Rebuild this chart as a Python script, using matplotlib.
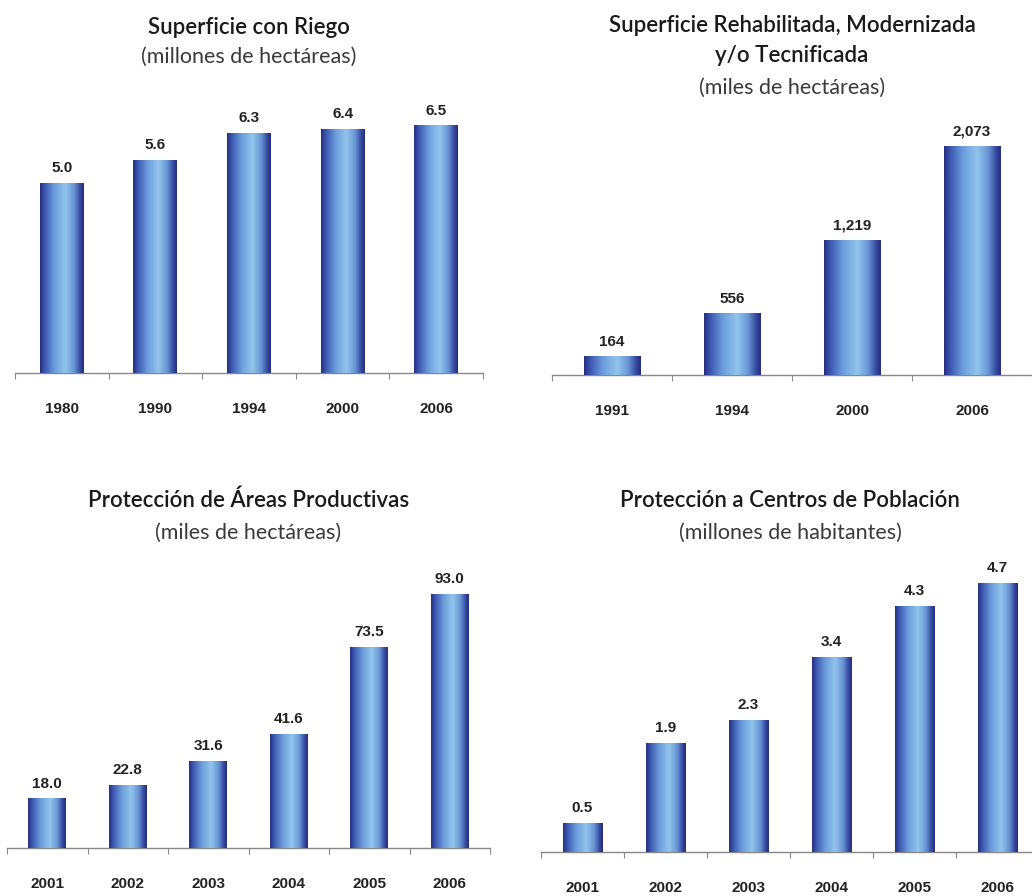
import matplotlib
matplotlib.use("Agg")
import matplotlib.pyplot as plt
import numpy as np
from matplotlib.colors import LinearSegmentedColormap

# Superficie con Riego (millones de hectáreas)
riego_years = ["1980", "1990", "1994", "2000", "2006"]
riego_values = [5.0, 5.6, 6.3, 6.4, 6.5]
riego_labels = ["5.0", "5.6", "6.3", "6.4", "6.5"]

# Superficie Rehabilitada, Modernizada y/o Tecnificada (miles de hectáreas)
rehab_years = ["1991", "1994", "2000", "2006"]
rehab_values = [164, 556, 1219, 2073]
rehab_labels = ["164", "556", "1,219", "2,073"]

# Protección de Áreas Productivas (miles de hectáreas)
areas_years = ["2001", "2002", "2003", "2004", "2005", "2006"]
areas_values = [18.0, 22.8, 31.6, 41.6, 73.5, 93.0]
areas_labels = ["18.0", "22.8", "31.6", "41.6", "73.5", "93.0"]

# Protección a Centros de Población (millones de habitantes)
pobl_years = ["2001", "2002", "2003", "2004", "2005", "2006"]
pobl_values = [0.5, 1.9, 2.3, 3.4, 4.3, 4.7]
pobl_labels = ["0.5", "1.9", "2.3", "3.4", "4.3", "4.7"]

W, H = 1032, 896
NUM_FONT = ["Liberation Sans Narrow", "Liberation Sans", "DejaVu Sans"]
TITLE_FONT = ["Lato", "DejaVu Sans"]

bar_cmap = LinearSegmentedColormap.from_list(
    "cyl",
    [(0.0, "#262e7c"), (0.1, "#3a54ae"), (0.33, "#6c9cdb"),
     (0.58, "#92c5eb"), (0.78, "#6894d4"), (0.92, "#34489e"), (1.0, "#252c78")],
)
gradient = np.linspace(0, 1, 256).reshape(1, -1)


def px_axes(fig, x0, x1, y_base, height):
    return fig.add_axes([x0 / W, (H - y_base) / H, (x1 - x0) / W, height / H])


def draw_panel(fig, ax, years, values, labels, ymax, titles):
    n = len(years)
    x = np.arange(n)
    bars = ax.bar(x, values, width=0.47, color="#4a6cc4", zorder=2)
    for b in bars:
        x0, w, h = b.get_x(), b.get_width(), b.get_height()
        ax.imshow(gradient, extent=[x0, x0 + w, 0, h], aspect="auto",
                  cmap=bar_cmap, zorder=3, interpolation="bicubic")
    for b, lab in zip(bars, labels):
        ax.annotate(lab, (b.get_x() + b.get_width() / 2, b.get_height()),
                    xytext=(0, 6), textcoords="offset points",
                    ha="center", va="bottom", fontsize=11,
                    fontweight="bold", family=NUM_FONT, color="#222222")
    ax.set_xlim(-0.5, n - 0.5)
    ax.set_ylim(0, ymax)
    ax.set_xticks(x)
    ax.set_xticklabels(years, fontsize=11, fontweight="bold",
                       family=NUM_FONT, color="#222222")
    ax.set_xticks(np.arange(n + 1) - 0.5, minor=True)
    ax.tick_params(axis="x", which="major", length=0, pad=21)
    ax.tick_params(axis="x", which="minor", length=4, width=0.8,
                   color="#888888", direction="out")
    ax.set_yticks([])
    for side in ("top", "right", "left"):
        ax.spines[side].set_visible(False)
    ax.spines["bottom"].set_color("#888888")
    ax.spines["bottom"].set_linewidth(1.0)
    ax.set_facecolor("none")

    pos = ax.get_position()
    xc = pos.x0 + pos.width / 2
    for text, y_px, kind in titles:
        if kind == "title":
            fig.text(xc, 1 - y_px / H, text, ha="center", va="center",
                     fontsize=16, fontweight="semibold", family=TITLE_FONT,
                     color="#1a1a1a")
        else:
            fig.text(xc, 1 - y_px / H, text, ha="center", va="center",
                     fontsize=15.5, fontweight="normal", family=TITLE_FONT,
                     color="#3a3a3a")


fig = plt.figure(figsize=(W / 100, H / 100), dpi=100)
fig.patch.set_facecolor("white")

ax1 = px_axes(fig, 15, 483, 373, 266)
draw_panel(fig, ax1, riego_years, riego_values, riego_labels, 7,
           [("Superficie con Riego", 28, "title"),
            ("(millones de hectáreas)", 57, "sub")])

ax2 = px_axes(fig, 552, 1032, 375, 253)
draw_panel(fig, ax2, rehab_years, rehab_values, rehab_labels, 2300,
           [("Superficie Rehabilitada, Modernizada", 25, "title"),
            ("y/o Tecnificada", 55, "title"),
            ("(miles de hectáreas)", 88, "sub")])

ax3 = px_axes(fig, 7, 490, 848, 273)
draw_panel(fig, ax3, areas_years, areas_values, areas_labels, 100,
           [("Protección de Áreas Productivas", 500, "title"),
            ("(miles de hectáreas)", 533, "sub")])

ax4 = px_axes(fig, 541, 1039, 852, 286)
draw_panel(fig, ax4, pobl_years, pobl_values, pobl_labels, 5,
           [("Protección a Centros de Población", 500, "title"),
            ("(millones de habitantes)", 533, "sub")])

fig.savefig("out.png", dpi=100)
